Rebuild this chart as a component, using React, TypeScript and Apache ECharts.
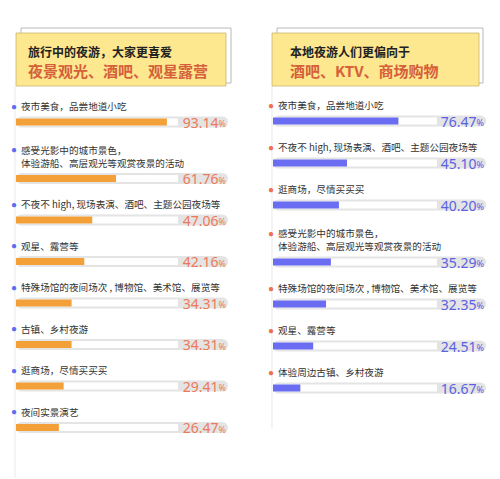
import React, { useEffect, useRef } from "react";
import * as echarts from "echarts";

const FONT = "Noto Sans CJK SC";

const leftTitle = "旅行中的夜游，大家更喜爱";
const leftSubtitle = "夜景观光、酒吧、观星露营";
const leftLabels = [
  "夜市美食，品尝地道小吃",
  "感受光影中的城市景色，\n体验游船、高层观光等观赏夜景的活动",
  "不夜不 high, 现场表演、酒吧、主题公园夜场等",
  "观星、露营等",
  "特殊场馆的夜间场次 , 博物馆、美术馆、展览等",
  "古镇、乡村夜游",
  "逛商场，尽情买买买",
  "夜间实景演艺",
];
const leftValues = [93.14, 61.76, 47.06, 42.16, 34.31, 34.31, 29.41, 26.47];

const rightTitle = "本地夜游人们更偏向于";
const rightSubtitle = "酒吧、KTV、商场购物";
const rightLabels = [
  "夜市美食，品尝地道小吃",
  "不夜不 high, 现场表演、酒吧、主题公园夜场等",
  "逛商场，尽情买买买",
  "感受光影中的城市景色，\n体验游船、高层观光等观赏夜景的活动",
  "特殊场馆的夜间场次 , 博物馆、美术馆、展览等",
  "观星、露营等",
  "体验周边古镇、乡村夜游",
];
const rightValues = [76.47, 45.1, 40.2, 35.29, 32.35, 24.51, 16.67];

type Panel = {
  labels: string[];
  values: number[];
  title: string;
  subtitle: string;
  x0: number; // track start
  x100: number; // where 100% lands
  xEnd: number; // capsule end
  y0: number; // first bar centre
  pitch: number;
  fill: string;
  pct: string;
  dot: string;
  box: [number, number, number, number];
  shadow: [number, number, number, number];
  titleLeft: number;
  lineEnd: number;
};

const panels: Panel[] = [
  {
    labels: leftLabels,
    values: leftValues,
    title: leftTitle,
    subtitle: leftSubtitle,
    x0: 16,
    x100: 178,
    xEnd: 228,
    y0: 122,
    pitch: 41.5,
    fill: "#f2a037",
    pct: "#ec7a5a",
    dot: "#5b6cf0",
    box: [16, 33, 210, 53],
    shadow: [21, 28, 210, 55],
    titleLeft: 28,
    lineEnd: 478,
  },
  {
    labels: rightLabels,
    values: rightValues,
    title: rightTitle,
    subtitle: rightSubtitle,
    x0: 273,
    x100: 437,
    xEnd: 486,
    y0: 121,
    pitch: 42,
    fill: "#6a6cf2",
    pct: "#5a62e2",
    dot: "#ec7152",
    box: [272, 33, 207, 53],
    shadow: [277, 28, 206, 55],
    titleLeft: 290,
    lineEnd: 428,
  },
];

const catLabel = (name: string) => {
  const lines = name.split("\n");
  return lines
    .map((l, i) => (i === 0 ? `{dot|●}{t|${l}}` : `{sp| }{t|${l}}`))
    .join("\n");
};

const App: React.FC = () => {
  const chartRef = useRef<HTMLDivElement>(null);

  useEffect(() => {
    const chart = echarts.init(chartRef.current!, null, { renderer: "svg" });

    const grid: any[] = [];
    const xAxis: any[] = [];
    const yAxis: any[] = [];
    const series: any[] = [];
    const title: any[] = [];
    const graphic: any[] = [];

    panels.forEach((p) => {
      graphic.push(
        {
          type: "line",
          shape: { x1: p.x0 - 1, y1: 86, x2: p.x0 - 1, y2: p.lineEnd },
          style: { stroke: "#ececec", lineWidth: 1.2 },
        },
        {
          type: "rect",
          shape: { x: p.shadow[0], y: p.shadow[1], width: p.shadow[2], height: p.shadow[3] },
          style: { fill: "none", stroke: "#b8b8b8", lineWidth: 1 },
        },
        {
          type: "rect",
          shape: { x: p.box[0], y: p.box[1], width: p.box[2], height: p.box[3] },
          style: { fill: "#fde78f", stroke: "#c8b872", lineWidth: 0.8 },
        }
      );

      title.push({
        text: p.title,
        subtext: p.subtitle,
        left: p.titleLeft,
        top: 44,
        padding: 0,
        itemGap: 2,
        textStyle: { fontFamily: FONT, fontSize: 12, fontWeight: "bold", color: "#222", lineHeight: 14 },
        subtextStyle: { fontFamily: FONT, fontSize: 15, fontWeight: "bold", color: "#d5603a", lineHeight: 20 },
      });

      const M = (100 * (p.xEnd - p.x0)) / (p.x100 - p.x0);
      let barY = p.y0;
      p.labels.forEach((name, i) => {
        if (i > 0) barY += p.pitch + 15 * (name.split("\n").length - 1);
        const g = grid.length;
        grid.push({ left: p.x0, top: barY - 5.5, width: p.xEnd - p.x0, height: 11 });
        xAxis.push({ type: "value", gridIndex: g, min: 0, max: M, show: false });
        yAxis.push(
          { type: "category", gridIndex: g, data: [name], show: false },
          { type: "category", gridIndex: g, data: [name], show: false, position: "right" }
        );
        const v = p.values[i];
        series.push(
          {
            type: "bar",
            xAxisIndex: g,
            yAxisIndex: 2 * g + 1,
            data: [M],
            barWidth: 11,
            silent: true,
            z: 2,
            itemStyle: { color: "#e4e4e4", borderRadius: 5.5 },
            label: {
              show: true,
              position: "insideRight",
              distance: 2,
              formatter: `{v|${v.toFixed(2)}}{p|%}`,
              rich: {
                v: { fontFamily: "Noto Sans", fontSize: 14, color: p.pct, lineHeight: 14 },
                p: { fontFamily: "Noto Sans", fontSize: 9, color: p.pct, padding: [3, 0, 0, 0] },
              },
            },
          },
          {
            type: "bar",
            xAxisIndex: g,
            yAxisIndex: 2 * g,
            data: [100],
            barWidth: 7,
            barGap: "-100%",
            silent: true,
            z: 3,
            itemStyle: { color: "#ffffff" },
            label: {
              show: true,
              position: [-5, -6],
              align: "left",
              verticalAlign: "bottom",
              formatter: catLabel(name),
              rich: {
                dot: { fontSize: 10, color: p.dot, width: 10, lineHeight: 13 },
                sp: { fontSize: 8, width: 10, lineHeight: 13 },
                t: { fontFamily: FONT, fontSize: 9.6, color: "#333", lineHeight: 13 },
              },
            },
          },
          {
            type: "bar",
            xAxisIndex: g,
            yAxisIndex: 2 * g,
            data: [v],
            barWidth: 7,
            barGap: "-100%",
            silent: true,
            z: 4,
            itemStyle: { color: p.fill },
          }
        );
      });
    });

    chart.setOption({
      animation: false,
      backgroundColor: "#ffffff",
      title,
      grid,
      xAxis,
      yAxis,
      series,
      graphic: { elements: graphic },
    });

    return () => chart.dispose();
  }, []);

  return (
    <div
      ref={chartRef}
      style={{ position: "absolute", left: 0, top: 0, width: "500px", height: "479px" }}
    />
  );
};

export default App;
